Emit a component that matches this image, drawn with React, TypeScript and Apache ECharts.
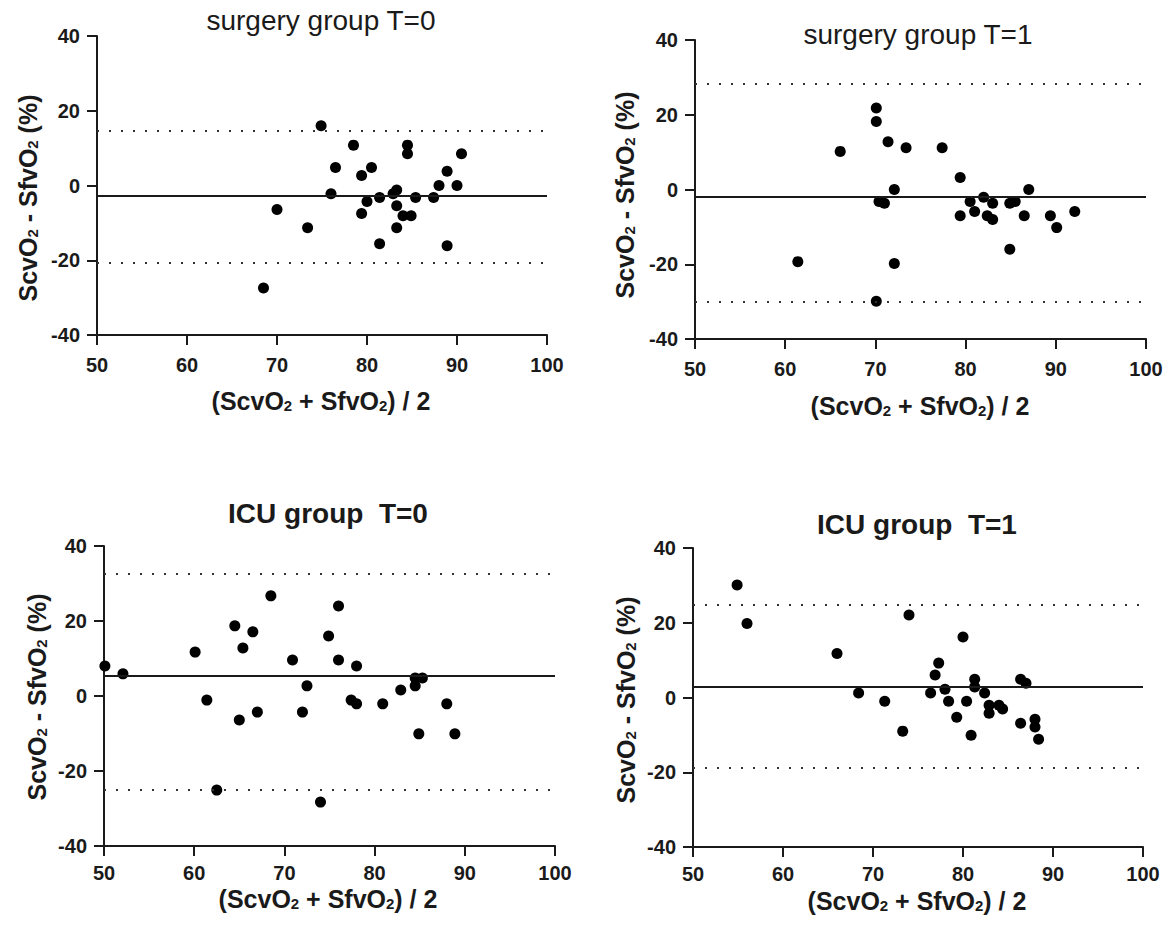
import React, { useEffect, useRef } from "react";
import * as echarts from "echarts";

const FONT = '"Liberation Sans", Arial, Helvetica, sans-serif';

// x ticks / y ticks
const xTicks = { min: 50, max: 100, interval: 10 };
const yTicks = { min: -40, max: 40, interval: 20 };

const panelTitles = ["surgery group T=0", "surgery group T=1", "ICU group  T=0", "ICU group  T=1"];

// [mean of differences, upper limit, lower limit]
const surgeryT0Lines = [-2.7, 14.6, -20.6];
const surgeryT1Lines = [-2.0, 28.3, -29.9];
const icuT0Lines = [5.4, 32.6, -25.0];
const icuT1Lines = [2.8, 24.7, -18.7];

// points: [mean of ScvO2 & SfvO2, ScvO2 - SfvO2]
const surgeryT0 = [
  [74.9, 16.0], [78.5, 10.8], [84.5, 10.8], [84.5, 8.5], [90.5, 8.5], [76.5, 4.8], [80.5, 4.8],
  [79.4, 2.7], [88.9, 3.8], [88.0, 0.0], [90.0, 0.0], [76.0, -2.2], [82.9, -2.2], [83.3, -1.2],
  [81.4, -3.2], [85.4, -3.2], [87.4, -3.2], [80.0, -4.3], [83.3, -5.4], [70.0, -6.4], [79.4, -7.5],
  [84.0, -8.1], [84.9, -8.1], [73.4, -11.3], [83.3, -11.3], [81.4, -15.6], [88.9, -16.1], [68.5, -27.4],
];

const surgeryT1 = [
  [70.1, 21.8], [70.1, 18.2], [71.4, 12.8], [73.4, 11.2], [77.4, 11.2], [66.1, 10.2], [79.4, 3.2],
  [72.1, 0.0], [87.0, 0.0], [70.4, -3.2], [71.0, -3.7], [80.5, -3.2], [82.0, -2.1], [83.0, -3.7],
  [84.9, -3.7], [85.5, -3.2], [81.0, -5.9], [79.4, -7.0], [82.4, -7.0], [83.0, -8.0], [86.5, -7.0],
  [89.4, -7.0], [92.1, -5.9], [90.1, -10.2], [84.9, -16.0], [61.4, -19.3], [72.1, -19.8], [70.1, -29.9],
];

const icuT0 = [
  [50.1, 8.0], [52.1, 5.9], [60.1, 11.7], [61.4, -1.1], [62.5, -25.1], [64.5, 18.7], [65.4, 12.8],
  [65.0, -6.4], [66.5, 17.1], [67.0, -4.3], [68.5, 26.7], [70.9, 9.6], [72.0, -4.3], [72.5, 2.7],
  [74.0, -28.3], [74.9, 16.0], [76.0, 24.0], [76.0, 9.6], [78.0, 8.0], [77.4, -1.1], [78.0, -2.1],
  [80.9, -2.1], [82.9, 1.6], [84.5, 4.8], [85.3, 4.8], [84.5, 2.7], [84.9, -10.1], [88.0, -2.1],
  [88.9, -10.1],
];

const icuT1 = [
  [54.9, 30.1], [56.0, 19.8], [66.0, 11.8], [68.4, 1.2], [71.3, -1.0], [73.3, -9.0], [74.0, 22.1],
  [76.4, 1.2], [76.9, 6.0], [77.3, 9.2], [78.0, 2.2], [78.4, -1.0], [79.3, -5.3], [80.0, 16.2],
  [80.4, -1.0], [80.9, -10.1], [81.3, 4.9], [81.3, 2.8], [82.4, 1.2], [82.9, -2.1], [82.9, -4.2],
  [84.0, -2.1], [84.4, -3.1], [86.4, 4.9], [87.0, 3.8], [86.4, -6.9], [88.0, -5.8], [88.0, -7.9],
  [88.4, -11.2],
];

const panelData = [surgeryT0, surgeryT1, icuT0, icuT1];
const panelLines = [surgeryT0Lines, surgeryT1Lines, icuT0Lines, icuT1Lines];

// layout (pixels)
const grids = [
  { left: 97, top: 36, width: 450, height: 299 },
  { left: 695, top: 40, width: 451, height: 299 },
  { left: 104, top: 546, width: 451, height: 300 },
  { left: 693, top: 548, width: 450, height: 299 },
];
const xLabelMargins = [20, 20, 17, 17];
const titlePos = [[321, 20, "normal"], [918, 34, "normal"], [328, 513, "bold"], [917, 524, "bold"]];
const yNamePos = [[26, 198], [623, 195], [35, 697], [624, 700]];
const xNamePos = [[321, 399], [920, 404], [328, 897], [917, 899]];

const INK = "#1a1a1a";

const richName = {
  n: { fontSize: 25, fontWeight: "bold", fontFamily: FONT, fill: INK, lineHeight: 28, verticalAlign: "bottom" },
  s: { fontSize: 15, fontWeight: "bold", fontFamily: FONT, fill: INK, lineHeight: 14, verticalAlign: "bottom" },
};

export default function App() {
  const ref = useRef<HTMLDivElement>(null);
  useEffect(() => {
    if (!ref.current) return;
    const chart = echarts.init(ref.current, undefined, { renderer: "svg" });

    const xAxis = grids.map((_, i) => ({
      type: "value",
      gridIndex: i,
      min: xTicks.min,
      max: xTicks.max,
      interval: xTicks.interval,
      axisLine: { show: true, onZero: false, lineStyle: { color: INK, width: 2 } },
      axisTick: { show: true, length: 10, lineStyle: { color: INK, width: 2 } },
      axisLabel: {
        margin: xLabelMargins[i],
        color: INK,
        fontSize: 20,
        lineHeight: 20,
        fontWeight: "bold",
        fontFamily: FONT,
      },
      splitLine: { show: false },
    }));
    const yAxis = grids.map((_, i) => ({
      type: "value",
      gridIndex: i,
      min: yTicks.min,
      max: yTicks.max,
      interval: yTicks.interval,
      axisLine: { show: true, onZero: false, lineStyle: { color: INK, width: 2 } },
      axisTick: { show: true, length: 10, lineStyle: { color: INK, width: 2 } },
      axisLabel: { margin: 17, color: INK, fontSize: 20, lineHeight: 20, fontWeight: "bold", fontFamily: FONT },
      splitLine: { show: false },
    }));

    const series = panelData.map((d, i) => {
      const [mean, up, lo] = panelLines[i];
      return {
        type: "scatter",
        xAxisIndex: i,
        yAxisIndex: i,
        data: d,
        symbol: "circle",
        symbolSize: 11,
        itemStyle: { color: "#000", opacity: 1 },
        markLine: {
          silent: true,
          symbol: "none",
          label: { show: false },
          data: [
            { yAxis: mean, lineStyle: { color: INK, width: 2, type: "solid", opacity: 1 } },
            { yAxis: up, lineStyle: { color: "#333", width: 2, type: [2, 10], opacity: 1 } },
            { yAxis: lo, lineStyle: { color: "#333", width: 2, type: [2, 10], opacity: 1 } },
          ],
        },
      };
    });

    const graphic: any[] = [];
    titlePos.forEach(([x, y, w], i) => {
      graphic.push({
        type: "text",
        x,
        y,
        style: {
          text: panelTitles[i],
          fill: INK,
          fontSize: 28,
          fontWeight: w,
          fontFamily: FONT,
          align: "center",
          verticalAlign: "middle",
        },
      });
    });
    yNamePos.forEach(([x, y]) => {
      graphic.push({
        type: "text",
        x,
        y,
        rotation: Math.PI / 2,
        style: {
          text: "{n|ScvO}{s|2}{n| - SfvO}{s|2}{n| (%)}",
          rich: richName,
          align: "center",
          verticalAlign: "middle",
        },
      });
    });
    xNamePos.forEach(([x, y]) => {
      graphic.push({
        type: "text",
        x,
        y,
        style: {
          text: "{n|(ScvO}{s|2}{n| + SfvO}{s|2}{n|) / 2}",
          rich: richName,
          align: "center",
          verticalAlign: "middle",
        },
      });
    });

    chart.setOption({
      animation: false,
      backgroundColor: "#ffffff",
      grid: grids.map((g) => ({ ...g, containLabel: false })),
      xAxis,
      yAxis,
      series,
      graphic,
    });
    return () => chart.dispose();
  }, []);
  return (
    <div
      ref={ref}
      style={{ position: "absolute", left: 0, top: 0, width: 1168, height: 929, background: "#fff" }}
    />
  );
}
